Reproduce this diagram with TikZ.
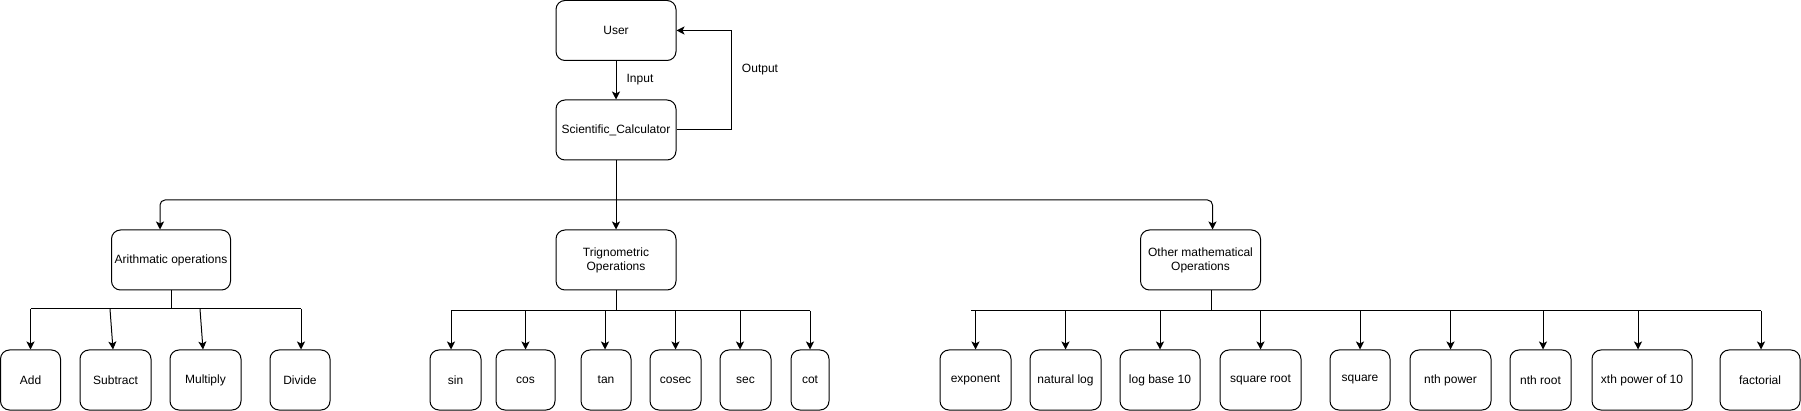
\documentclass[tikz,border=0pt]{standalone}
\usepackage{fontspec}
\setmainfont{Liberation Sans}
\usetikzlibrary{arrows.meta}
\begin{document}
\begin{tikzpicture}[x=1pt,y=-1pt,
  box/.style={draw, line width=1pt, rounded corners=9pt, inner sep=0pt, align=center,
    font=\fontsize{12}{14}\selectfont, minimum height=60pt},
  arr/.style={draw, line width=1pt, -{Stealth[length=8pt,width=8pt,inset=2pt]}},
  bus/.style={draw, line width=1pt},
  lbl/.style={font=\fontsize{12}{14}\selectfont, inner sep=0pt}
]
\useasboundingbox (0,0) rectangle (1801,411);
\coordinate (abus) at (0,309);
\coordinate (tbus) at (0,311);
\coordinate (mbus) at (0,200);
\coordinate (obusl) at (971,311);
% top
\node[box, minimum width=120pt] (user) at (616,30.5) {User};
\node[box, minimum width=120pt] (sc) at (616,130) {Scientific\_Calculator};
% middle
\node[box, minimum width=119pt] (arith) at (171,260) {Arithmatic operations};
\node[box, minimum width=120pt] (trig) at (616,260) {Trignometric\\Operations};
\node[box, minimum width=120pt] (other) at (1200.5,260) {Other mathematical\\Operations};
% arithmetic children
\node[box, minimum width=60pt] (add) at (30.5,380) {Add};
\node[box, minimum width=71pt] (sub) at (115.5,380) {Subtract};
\node[box, minimum width=71pt] (mul) at (205.5,380) {Multiply};
\node[box, minimum width=60pt] (div) at (300,380) {Divide};
% trig children
\node[box, minimum width=51pt] (sin) at (455.5,380) {sin};
\node[box, minimum width=59pt] (cos) at (525.5,380) {cos};
\node[box, minimum width=50pt] (tan) at (606,380) {tan};
\node[box, minimum width=51pt] (cosec) at (675.5,380) {cosec};
\node[box, minimum width=51pt] (sec) at (745.5,380) {sec};
\node[box, minimum width=38pt] (cot) at (810,380) {cot};
% other children
\node[box, minimum width=71pt] (expo) at (975.5,380) {exponent};
\node[box, minimum width=71pt] (nlog) at (1065.5,380) {natural log};
\node[box, minimum width=80pt] (logten) at (1160,380) {log base 10};
\node[box, minimum width=81pt] (sqrt) at (1260.5,380) {square root};
\node[box, minimum width=60pt] (sq) at (1360,380) {square};
\node[box, minimum width=81pt] (npow) at (1450.5,380) {nth power};
\node[box, minimum width=61pt] (nroot) at (1540.5,380) {nth root};
\node[box, minimum width=100pt] (xpow) at (1642,380) {xth power of 10};
\node[box, minimum width=80pt] (fact) at (1760,380) {factorial};
% user <-> calculator
\draw[arr] (user.south) -- (sc.north);
\node[lbl] (input) at (640,80) {Input};
\draw[arr] (sc.east) -- ++(55,0) |- (user.east);
\node[lbl] (output) at (760,70) {Output};
% calculator to categories
\coordinate (j) at (sc.south |- mbus);
\draw[arr] (sc.south) -- (trig.north);
\draw[arr, rounded corners=5pt] (j) -| ([xshift=-11pt]arith.north);
\draw[arr, rounded corners=5pt] (j) -| ([xshift=12pt]other.north);
% arithmetic bus
\draw[bus] (arith.south) -- (arith.south |- abus);
\draw[bus] (add.north |- abus) -- ([xshift=1pt]div.north |- abus);
\draw[arr] (add.north |- abus) -- (add.north);
\draw[arr] ([xshift=-5.5pt]sub.north |- abus) -- ([xshift=-2.5pt]sub.north);
\draw[arr] ([xshift=-5.5pt]mul.north |- abus) -- ([xshift=-2.5pt]mul.north);
\draw[arr] ([xshift=1pt]div.north |- abus) -- ([xshift=1pt]div.north);
% trig bus
\draw[bus] (trig.south) -- (trig.south |- tbus);
\draw[bus] ([xshift=-4.5pt]sin.north |- tbus) -- (cot.north |- tbus);
\draw[arr] ([xshift=-4.5pt]sin.north |- tbus) -- ([xshift=-4.5pt]sin.north);
\draw[arr] (cos.north |- tbus) -- (cos.north);
\draw[arr] ([xshift=-1pt]tan.north |- tbus) -- ([xshift=-1pt]tan.north);
\draw[arr] (cosec.north |- tbus) -- (cosec.north);
\draw[arr] ([xshift=-5.5pt]sec.north |- tbus) -- ([xshift=-5.5pt]sec.north);
\draw[arr] (cot.north |- tbus) -- (cot.north);
% other bus
\draw[bus] ([xshift=10.5pt]other.south) -- ([xshift=10.5pt]other.south |- tbus);
\draw[bus] (obusl) -- ([xshift=1pt]fact.north |- tbus);
\draw[arr] (expo.north |- tbus) -- (expo.north);
\draw[arr] (nlog.north |- tbus) -- (nlog.north);
\draw[arr] (logten.north |- tbus) -- (logten.north);
\draw[arr] (sqrt.north |- tbus) -- (sqrt.north);
\draw[arr] (sq.north |- tbus) -- (sq.north);
\draw[arr] (npow.north |- tbus) -- (npow.north);
\draw[arr] ([xshift=2.5pt]nroot.north |- tbus) -- ([xshift=2.5pt]nroot.north);
\draw[arr] ([xshift=-4pt]xpow.north |- tbus) -- ([xshift=-4pt]xpow.north);
\draw[arr] ([xshift=1pt]fact.north |- tbus) -- ([xshift=1pt]fact.north);
\end{tikzpicture}
\end{document}
